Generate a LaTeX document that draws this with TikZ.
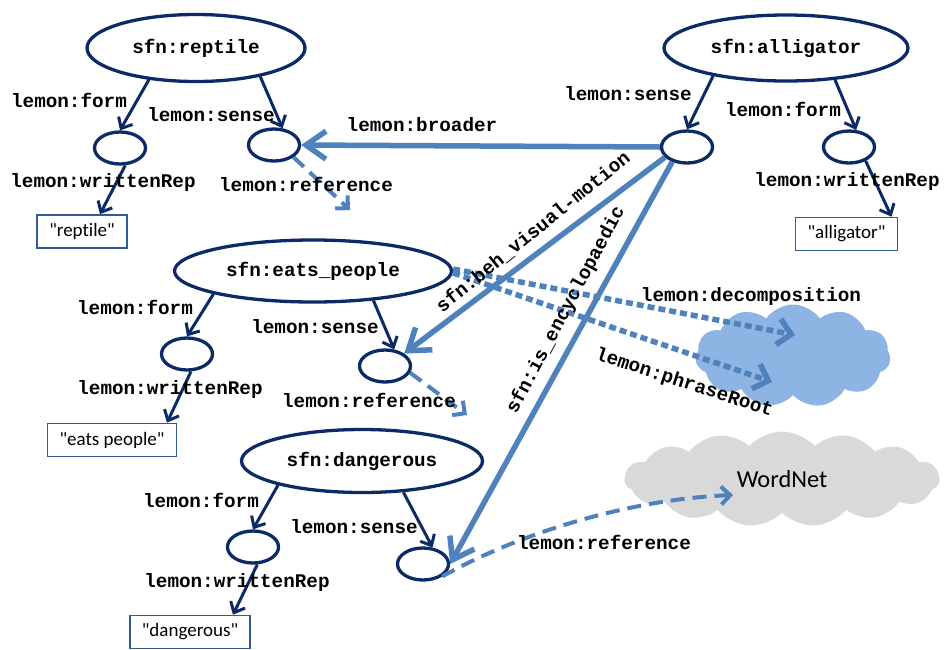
\documentclass[tikz,border=0pt]{standalone}
\usepackage{fontspec}
\setmainfont{Carlito}[Ligatures={TeXOff,NoCommon}]
\newfontfamily\monob{Liberation Mono}
\usetikzlibrary{shapes.geometric,shapes.symbols,arrows.meta}
\definecolor{navy}{HTML}{0B2A66}
\definecolor{mblue}{HTML}{4F81BD}
\definecolor{cblue}{HTML}{8EB4E3}
\definecolor{cgray}{HTML}{D9D9D9}
\definecolor{boxc}{HTML}{2F5B96}
\begin{document}
\begin{tikzpicture}[x=1pt,y=-1pt,
  bigell/.style={ellipse, draw=navy, line width=3.3pt, inner sep=0pt, font=\monob\bfseries\fontsize{19.3}{22}\selectfont},
  smallell/.style={ellipse, draw=navy, line width=3.3pt, minimum width=51pt, minimum height=32pt, inner sep=0pt},
  litbox/.style={draw=boxc, line width=1.6pt, minimum height=33pt, inner xsep=12pt, inner ysep=0pt, font=\fontsize{19}{22}\selectfont},
  lbl/.style={font=\monob\bfseries\fontsize{19.3}{22}\selectfont, inner sep=0pt, anchor=base},
  lblrot/.style={font=\monob\bfseries\fontsize{19.3}{22}\selectfont, inner sep=0pt, anchor=center},
  relarrow/.style={draw=navy, line width=3pt, -{Straight Barb[length=9pt,width=16pt]}},
  refarrow/.style={draw=mblue, line width=4pt, dash pattern=on 14pt off 8pt, -{Straight Barb[length=9pt,width=18pt]}},
  blarrow/.style={draw=mblue, line width=5.5pt, -{Straight Barb[length=20pt,width=28pt]}},
  dotarrow/.style={draw=mblue, line width=5.5pt, dash pattern=on 7pt off 4pt, -{Straight Barb[length=13pt,width=26pt]}},
  cloudshape/.style={cloud, cloud ignores aspect, draw=none, inner sep=0pt}
]
\useasboundingbox (0,0) rectangle (951,649);

% clouds
\node[cloudshape, cloud puffs=11, cloud puff arc=110, fill=cblue, minimum width=195pt, minimum height=103pt] (dcloud) at (793,356) {};
\node[cloudshape, cloud puffs=15, cloud puff arc=95, fill=cgray, minimum width=315pt, minimum height=95pt, font=\fontsize{24.4}{28}\selectfont] (wordnet) at (782,479) {WordNet};

% main ellipses
\node[bigell, minimum width=218pt, minimum height=67pt] (reptile) at (196,48) {sfn:reptile};
\node[bigell, minimum width=244pt, minimum height=66pt] (alligator) at (786,48) {sfn:alligator};
\node[bigell, minimum width=277pt, minimum height=62pt] (eats) at (313,271) {sfn:eats\_people};
\node[bigell, minimum width=241pt, minimum height=63pt] (dang) at (362,461) {sfn:dangerous};

% small ellipses
\node[smallell] (rform) at (120,148) {};
\node[smallell] (rsense) at (274,145) {};
\node[smallell] (asense) at (687,147) {};
\node[smallell] (aform) at (849,147) {};
\node[smallell] (eform) at (187,354) {};
\node[smallell] (esense) at (385,366) {};
\node[smallell] (dform) at (253,547) {};
\node[smallell] (dsense) at (423,564) {};

% literal boxes
\node[litbox] (rbox) at (82,231.5) {"reptile"};
\node[litbox] (abox) at (846.5,234) {"alligator"};
\node[litbox] (ebox) at (112,440) {"eats people"};
\node[litbox] (dbox) at (190,632) {"dangerous"};

% free ends
\coordinate (rrefend) at (350,210);
\coordinate (erefend) at (467,415);
\coordinate (wnend) at (733,495);
\coordinate (decend) at (795,335);
\coordinate (phrend) at (772,382);

% dark relations
\draw[relarrow] (reptile.214) -- (rform.north);
\draw[relarrow] (reptile.-24) -- (rsense.63);
\draw[relarrow] (rform.-73) -- ([xshift=18pt]rbox.north);
\draw[relarrow] (alligator.201) -- (asense.north);
\draw[relarrow] (alligator.-33) -- (aform.67);
\draw[relarrow] (aform.-40) -- ([xshift=45pt]abox.north);
\draw[relarrow] (eats.193) -- (eform.north);
\draw[relarrow] (eats.-26) -- (esense.61);
\draw[relarrow] (eform.-77) -- ([xshift=55pt]ebox.north);
\draw[relarrow] (dang.196) -- (dform.north);
\draw[relarrow] (dang.-37) -- (dsense.60);
\draw[relarrow] (dform.-76) -- ([xshift=43pt]dbox.north);

% reference arrows
\draw[refarrow] (rsense.-32) -- (rrefend);
\draw[refarrow] (esense.-15) -- (erefend);
\draw[refarrow] (dsense.-33) .. controls +(80,-45) and +(-100,4) .. (wnend);

% blue thick arrows
\draw[blarrow] (asense.west) -- (rsense.east);
\draw[blarrow] (asense.205) -- (esense.north east);
\draw[blarrow] (asense.225) -- (dsense.east);

% dotted arrows
\draw[dotarrow] ([yshift=2pt]eats.east) -- (decend);
\draw[dotarrow] ([yshift=-2pt]eats.east) -- (phrend);

% labels
\node[lbl] (l1) at (69,107) {lemon:form};
\node[lbl] (l2) at (211,121) {lemon:sense};
\node[lbl] (l3) at (103,187) {lemon:writtenRep};
\node[lbl] (l4) at (306,191) {lemon:reference};
\node[lbl] (l5) at (422,131) {lemon:broader};
\node[lbl] (l6) at (628,100) {lemon:sense};
\node[lbl] (l7) at (783,116) {lemon:form};
\node[lbl] (l8) at (847,186) {lemon:writtenRep};
\node[lbl] (l9) at (135,314) {lemon:form};
\node[lbl] (l10) at (315,333) {lemon:sense};
\node[lbl] (l11) at (170,394) {lemon:writtenRep};
\node[lbl] (l12) at (369,407) {lemon:reference};
\node[lbl] (l13) at (751,301) {lemon:decomposition};
\node[lbl] (l14) at (201,507) {lemon:form};
\node[lbl] (l15) at (354,533) {lemon:sense};
\node[lbl] (l16) at (237,587) {lemon:writtenRep};
\node[lbl] (l17) at (604,549) {lemon:reference};
\node[lblrot, rotate=39] (l18) at (533,232) {sfn:beh\_visual-motion};
\node[lblrot, rotate=62] (l19) at (566,310) {sfn:is\_encyclopaedic};
\node[lblrot, rotate=-18] (l20) at (684,383) {lemon:phraseRoot};
\end{tikzpicture}
\end{document}
